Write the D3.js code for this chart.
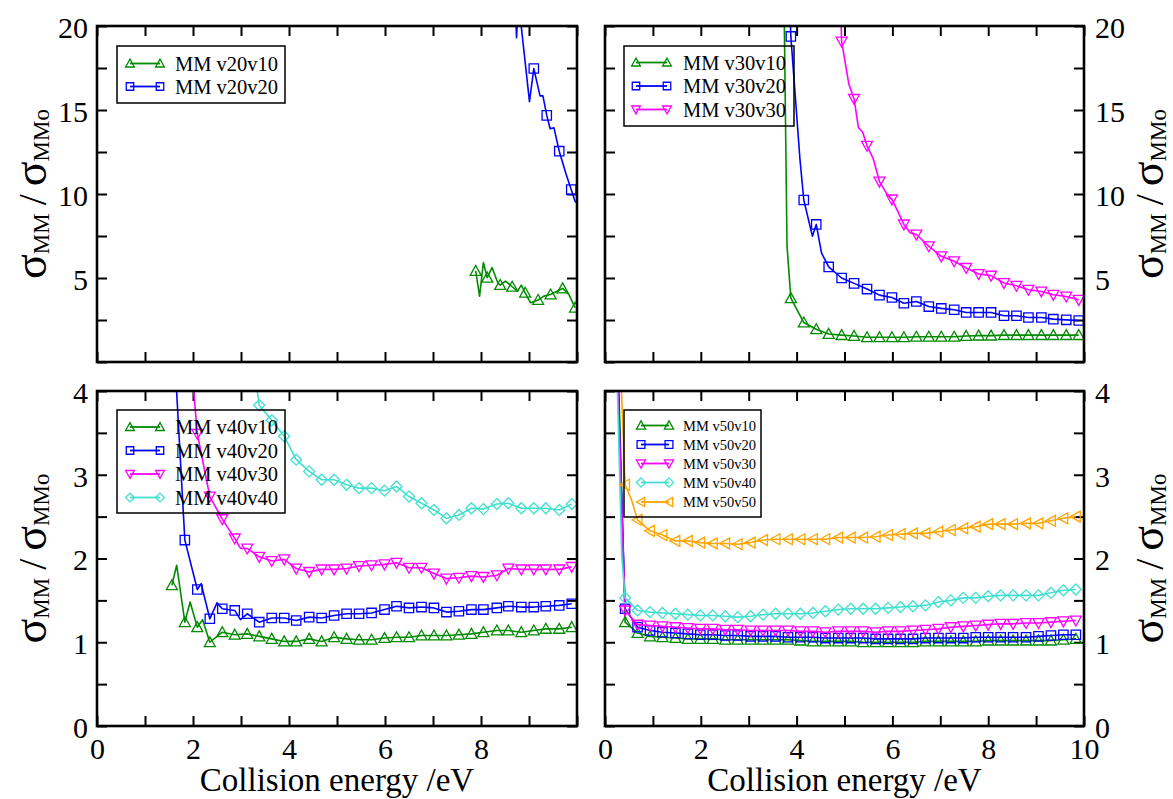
<!DOCTYPE html>
<html>
<head>
<meta charset="utf-8">
<script src="https://cdn.jsdelivr.net/npm/d3@7"></script>
<style>
  html, body { margin: 0; padding: 0; background: #fff; }
  svg { display: block; }
  svg text { font-family: "Liberation Serif", "Tinos", "Times New Roman", "Nimbus Roman", "DejaVu Serif", serif; }
</style>
</head>
<body>
<svg id="chart" width="1173" height="799"></svg>
<script>
// ---------------- DATA ----------------
const xTickLabelsBL = [0, 2, 4, 6, 8];
const xTickLabelsBR = [0, 2, 4, 6, 8, 10];
const yTickLabelsTop = [5, 10, 15, 20];
const yTickLabelsBottom = [0, 1, 2, 3, 4];

// Top-left panel (v20)
const xTL_v20v10 = [7.89, 8.13, 8.40, 8.65, 8.92, 9.19, 9.45, 9.70, 9.96];
const yTL_v20v10 = [5.42, 5.02, 4.58, 4.48, 4.12, 3.69, 4.02, 4.38, 3.23];
const kinksTL_v20v10 = [[7.97, 3.92], [8.05, 5.92], [8.23, 5.62], [8.35, 4.72], [8.51, 4.82], [8.76, 4.22], [8.84, 4.58], [9.03, 3.53], [9.31, 3.92], [9.83, 4.02]];
const xTL_v20v20 = [9.10, 9.37, 9.63, 9.88];
const yTL_v20v20 = [17.47, 14.68, 12.55, 10.26];
const kinksTL_v20v20 = [[8.72, 21.0], [8.74, 19.3], [8.78, 21.5], [9.01, 15.5], [9.23, 15.84], [9.29, 15.84], [9.44, 13.88], [9.52, 13.94], [9.77, 11.2], [9.97, 9.5]];

// Top-right panel (v30)
const xTR = [3.88, 4.15, 4.41, 4.67, 4.94, 5.20, 5.47, 5.73, 5.99, 6.24, 6.50, 6.76, 7.02, 7.29, 7.54, 7.80, 8.06, 8.33, 8.59, 8.84, 9.11, 9.36, 9.63, 9.89];
const yTR_v30v10 = [3.80, 2.35, 1.95, 1.67, 1.60, 1.55, 1.47, 1.47, 1.47, 1.47, 1.50, 1.50, 1.50, 1.50, 1.55, 1.57, 1.57, 1.60, 1.60, 1.60, 1.60, 1.60, 1.60, 1.60];
const yTR_v30v20 = [19.38, 9.64, 8.19, 5.66, 5.00, 4.68, 4.34, 3.98, 3.84, 3.50, 3.60, 3.30, 3.19, 3.11, 2.95, 2.95, 2.95, 2.75, 2.75, 2.65, 2.65, 2.55, 2.51, 2.47];
const yTR_v30v30 = [null, null, null, null, 19.08, 15.66, 12.87, 10.74, 9.68, 8.19, 7.59, 6.89, 6.29, 6.00, 5.60, 5.24, 5.14, 4.70, 4.54, 4.30, 4.20, 4.00, 3.90, 3.70];
const kinksTR_v30v10 = [[3.74, 21.0], [3.80, 6.9]];
const kinksTR_v30v20 = [[3.86, 21.0], [4.07, 12.07], [4.33, 7.49], [4.52, 6.49]];
const kinksTR_v30v30 = [[4.92, 21.0], [5.09, 16.55], [5.29, 13.96], [5.38, 13.67], [5.60, 12.1], [5.89, 9.98], [6.10, 9.04], [6.37, 7.69]];

// Bottom-left panel (v40)
const xBL = [1.56, 1.83, 2.09, 2.35, 2.61, 2.87, 3.13, 3.38, 3.64, 3.90, 4.15, 4.42, 4.68, 4.94, 5.20, 5.46, 5.72, 5.99, 6.24, 6.50, 6.76, 7.02, 7.28, 7.54, 7.80, 8.05, 8.33, 8.57, 8.84, 9.10, 9.35, 9.63, 9.89];
const yBL_v40v10 = [1.68, 1.24, 1.18, 1.00, 1.12, 1.09, 1.10, 1.07, 1.04, 1.01, 1.01, 1.04, 1.01, 1.06, 1.04, 1.03, 1.03, 1.05, 1.06, 1.06, 1.08, 1.08, 1.08, 1.09, 1.10, 1.12, 1.14, 1.14, 1.12, 1.14, 1.16, 1.16, 1.18];
const yBL_v40v20 = [null, 2.22, 1.63, 1.28, 1.40, 1.38, 1.34, 1.24, 1.29, 1.29, 1.26, 1.30, 1.29, 1.32, 1.34, 1.34, 1.35, 1.39, 1.43, 1.41, 1.42, 1.41, 1.36, 1.37, 1.39, 1.39, 1.41, 1.43, 1.42, 1.42, 1.43, 1.44, 1.46];
const yBL_v40v30 = [null, null, 3.49, 2.74, 2.47, 2.24, 2.12, 2.02, 1.97, 1.99, 1.88, 1.84, 1.87, 1.87, 1.88, 1.91, 1.92, 1.93, 1.95, 1.89, 1.89, 1.82, 1.76, 1.77, 1.79, 1.78, 1.80, 1.88, 1.87, 1.87, 1.87, 1.87, 1.90];
const yBL_v40v40 = [null, null, null, null, null, null, null, 3.83, 3.65, 3.46, 3.18, 3.04, 2.94, 2.94, 2.88, 2.84, 2.84, 2.81, 2.86, 2.74, 2.66, 2.58, 2.48, 2.52, 2.60, 2.59, 2.65, 2.66, 2.60, 2.60, 2.60, 2.58, 2.65];
const kinksBL_v40v10 = [[1.66, 1.92], [1.94, 1.48], [2.20, 1.27]];
const kinksBL_v40v20 = [[1.60, 4.6], [2.17, 1.70], [2.50, 1.47], [2.99, 1.27]];
const kinksBL_v40v30 = [[1.97, 4.3], [2.99, 2.12]];
const kinksBL_v40v40 = [[3.29, 4.2]];

// Bottom-right panel (v50)
const xBR = [0.42, 0.68, 0.94, 1.20, 1.47, 1.73, 1.99, 2.25, 2.51, 2.77, 3.04, 3.30, 3.56, 3.82, 4.08, 4.34, 4.60, 4.87, 5.13, 5.39, 5.65, 5.91, 6.17, 6.43, 6.69, 6.96, 7.22, 7.48, 7.74, 8.00, 8.26, 8.52, 8.79, 9.05, 9.31, 9.57, 9.83];
const yBR_v50v10 = [1.24, 1.11, 1.07, 1.06, 1.05, 1.04, 1.04, 1.04, 1.03, 1.03, 1.03, 1.03, 1.03, 1.03, 1.02, 1.01, 1.01, 1.01, 1.01, 1.00, 1.00, 1.00, 1.00, 1.00, 1.01, 1.01, 1.01, 1.01, 1.01, 1.02, 1.02, 1.02, 1.02, 1.02, 1.02, 1.03, 1.04];
const yBR_v50v20 = [1.40, 1.18, 1.14, 1.12, 1.11, 1.10, 1.09, 1.09, 1.08, 1.08, 1.07, 1.07, 1.07, 1.06, 1.06, 1.06, 1.05, 1.05, 1.05, 1.05, 1.04, 1.04, 1.04, 1.04, 1.05, 1.05, 1.05, 1.05, 1.06, 1.06, 1.06, 1.06, 1.06, 1.07, 1.08, 1.09, 1.09];
const yBR_v50v30 = [1.38, 1.21, 1.20, 1.19, 1.18, 1.17, 1.16, 1.16, 1.15, 1.15, 1.14, 1.14, 1.14, 1.14, 1.13, 1.13, 1.12, 1.13, 1.13, 1.13, 1.12, 1.13, 1.13, 1.14, 1.15, 1.16, 1.18, 1.19, 1.20, 1.21, 1.22, 1.22, 1.23, 1.23, 1.24, 1.25, 1.26];
const yBR_v50v40 = [1.53, 1.38, 1.36, 1.35, 1.34, 1.33, 1.32, 1.32, 1.31, 1.30, 1.31, 1.33, 1.34, 1.34, 1.34, 1.35, 1.37, 1.39, 1.40, 1.40, 1.40, 1.41, 1.42, 1.43, 1.44, 1.48, 1.50, 1.53, 1.53, 1.55, 1.56, 1.56, 1.56, 1.56, 1.59, 1.62, 1.63];
const yBR_v50v50 = [2.88, 2.46, 2.33, 2.28, 2.21, 2.21, 2.19, 2.18, 2.18, 2.17, 2.19, 2.22, 2.23, 2.23, 2.23, 2.23, 2.23, 2.25, 2.25, 2.25, 2.26, 2.28, 2.29, 2.30, 2.30, 2.32, 2.34, 2.36, 2.38, 2.41, 2.41, 2.41, 2.42, 2.42, 2.45, 2.48, 2.50];
const kinksBR_v50v10 = [[0.28, 4.2]];
const kinksBR_v50v20 = [[0.27, 4.2]];
const kinksBR_v50v30 = [[0.26, 4.2]];
const kinksBR_v50v40 = [[0.25, 4.2], [0.35, 2.03]];
const kinksBR_v50v50 = [[0.33, 4.2], [0.56, 2.69]];

// ---------------- STYLE / LAYOUT ----------------
const COL = { v10: "#008b00", v20: "#0000ff", v30: "#ff00ff", v40: "#40e0d0", v50: "#ffa500" };
const SHAPE = { v10: "up", v20: "square", v30: "down", v40: "diamond", v50: "left" };

function markerPath(shape, r) {
  switch (shape) {
    case "up": return `M0,${-r}L${r},${r * 0.8}L${-r},${r * 0.8}Z`;
    case "down": return `M0,${r}L${r},${-r * 0.8}L${-r},${-r * 0.8}Z`;
    case "left": return `M${-r},0L${r * 0.8},${-r}L${r * 0.8},${r}Z`;
    case "diamond": return `M0,${-r}L${r},0L0,${r}L${-r},0Z`;
    default: { const s = r * 0.85; return `M${-s},${-s}H${s}V${s}H${-s}Z`; }
  }
}

function merge(xs, ys, kinks) {
  const line = [], marks = [];
  xs.forEach((x, i) => { if (ys[i] != null) { line.push([x, ys[i]]); marks.push([x, ys[i]]); } });
  kinks.forEach(p => line.push(p));
  line.sort((a, b) => a[0] - b[0]);
  return { line, marks };
}

const panels = [
  {
    id: "TL", x0: 97, x1: 577, y0: 26, y1: 362, ydom: [0, 20], yStep: 2.5, yLabels: yTickLabelsTop,
    xLabels: [], side: "left",
    series: [
      { name: "MM v20v10", key: "v10", ...merge(xTL_v20v10, yTL_v20v10, kinksTL_v20v10) },
      { name: "MM v20v20", key: "v20", ...merge(xTL_v20v20, yTL_v20v20, kinksTL_v20v20) }
    ],
    legend: { x0: 117, y0: 46, x1: 285, y1: 103, rows: [63.5, 86.5], lx: 130, lw: 30, tx: 175, fs: 20.5, mr: 4.4 }
  },
  {
    id: "TR", x0: 605, x1: 1084, y0: 26, y1: 362, ydom: [0, 20], yStep: 2.5, yLabels: yTickLabelsTop,
    xLabels: [], side: "right",
    series: [
      { name: "MM v30v10", key: "v10", ...merge(xTR, yTR_v30v10, kinksTR_v30v10) },
      { name: "MM v30v20", key: "v20", ...merge(xTR, yTR_v30v20, kinksTR_v30v20) },
      { name: "MM v30v30", key: "v30", ...merge(xTR, yTR_v30v30, kinksTR_v30v30) }
    ],
    legend: { x0: 624, y0: 46, x1: 794, y1: 126, rows: [62.5, 86, 109.5], lx: 636, lw: 31, tx: 683, fs: 20.5, mr: 4.4 }
  },
  {
    id: "BL", x0: 97, x1: 577, y0: 391, y1: 726, ydom: [0, 4], yStep: 0.5, yLabels: yTickLabelsBottom,
    xLabels: xTickLabelsBL, side: "left",
    series: [
      { name: "MM v40v10", key: "v10", ...merge(xBL, yBL_v40v10, kinksBL_v40v10) },
      { name: "MM v40v20", key: "v20", ...merge(xBL, yBL_v40v20, kinksBL_v40v20) },
      { name: "MM v40v30", key: "v30", ...merge(xBL, yBL_v40v30, kinksBL_v40v30) },
      { name: "MM v40v40", key: "v40", ...merge(xBL, yBL_v40v40, kinksBL_v40v40) }
    ],
    legend: { x0: 117, y0: 410, x1: 285, y1: 513, rows: [427, 450.5, 474, 497.5], lx: 130, lw: 30, tx: 175, fs: 20.5, mr: 4.4 }
  },
  {
    id: "BR", x0: 605, x1: 1084, y0: 391, y1: 726, ydom: [0, 4], yStep: 0.5, yLabels: yTickLabelsBottom,
    xLabels: xTickLabelsBR, side: "right",
    series: [
      { name: "MM v50v10", key: "v10", ...merge(xBR, yBR_v50v10, kinksBR_v50v10) },
      { name: "MM v50v20", key: "v20", ...merge(xBR, yBR_v50v20, kinksBR_v50v20) },
      { name: "MM v50v30", key: "v30", ...merge(xBR, yBR_v50v30, kinksBR_v50v30) },
      { name: "MM v50v40", key: "v40", ...merge(xBR, yBR_v50v40, kinksBR_v50v40) },
      { name: "MM v50v50", key: "v50", ...merge(xBR, yBR_v50v50, kinksBR_v50v50) }
    ],
    legend: { x0: 624, y0: 410, x1: 761, y1: 517, rows: [425.5, 444.5, 463.5, 482.5, 502], lx: 641, lw: 28, tx: 683, fs: 14.5, mr: 4.6 }
  }
];

const svg = d3.select("#chart");
const defs = svg.append("defs");

panels.forEach(p => {
  const x = d3.scaleLinear().domain([0, 10]).range([p.x0, p.x1]);
  const y = d3.scaleLinear().domain(p.ydom).range([p.y1, p.y0]);
  const g = svg.append("g").attr("class", "panel-" + p.id);

  defs.append("clipPath").attr("id", "clip-" + p.id)
    .append("rect").attr("x", p.x0).attr("y", p.y0).attr("width", p.x1 - p.x0).attr("height", p.y1 - p.y0);

  const xTicks = d3.range(0, 11, 1);
  const yTicks = d3.range(p.ydom[0], p.ydom[1] + 1e-9, p.yStep);
  const fmtX = d => p.xLabels.includes(d) ? String(d) : "";
  const fmtY = d => p.yLabels.includes(d) ? String(d) : "";

  const axB = g.append("g").attr("transform", `translate(0,${p.y1})`)
    .call(d3.axisBottom(x).tickValues(xTicks).tickSizeInner(-10).tickSizeOuter(0).tickPadding(12).tickFormat(fmtX));
  const axT = g.append("g").attr("transform", `translate(0,${p.y0})`)
    .call(d3.axisTop(x).tickValues(xTicks).tickSizeInner(-10).tickSizeOuter(0).tickFormat(() => ""));
  const axL = g.append("g").attr("transform", `translate(${p.x0},0)`)
    .call(d3.axisLeft(y).tickValues(yTicks).tickSizeInner(-10).tickSizeOuter(0).tickPadding(9)
      .tickFormat(p.side === "left" ? fmtY : () => ""));
  const axR = g.append("g").attr("transform", `translate(${p.x1},0)`)
    .call(d3.axisRight(y).tickValues(yTicks).tickSizeInner(-10).tickSizeOuter(0).tickPadding(11)
      .tickFormat(p.side === "right" ? fmtY : () => ""));

  [axB, axT, axL, axR].forEach(a => {
    a.attr("font-family", null).attr("font-size", null);
    a.select(".domain").remove();
    a.selectAll(".tick line").attr("stroke", "#000").attr("stroke-width", 2);
    a.selectAll(".tick text").attr("fill", "#000").style("font-size", "30px");
  });
  axL.selectAll(".tick text").attr("dy", "0.38em");
  axR.selectAll(".tick text").attr("dy", "0.38em");

  const plot = g.append("g").attr("clip-path", `url(#clip-${p.id})`);
  const lineGen = d3.line().x(d => x(d[0])).y(d => y(d[1]));
  p.series.forEach(s => {
    plot.append("path").datum(s.line).attr("d", lineGen)
      .attr("fill", "none").attr("stroke", COL[s.key]).attr("stroke-width", 1.6).attr("stroke-linejoin", "round");
    plot.selectAll(null).data(s.marks).enter().append("path")
      .attr("d", markerPath(SHAPE[s.key], 5.5))
      .attr("transform", d => `translate(${x(d[0])},${y(d[1])})`)
      .attr("fill", "none").attr("stroke", COL[s.key]).attr("stroke-width", 1.3);
  });

  g.append("rect").attr("x", p.x0).attr("y", p.y0).attr("width", p.x1 - p.x0).attr("height", p.y1 - p.y0)
    .attr("fill", "none").attr("stroke", "#000").attr("stroke-width", 2.6);

  const L = p.legend;
  const lg = g.append("g").attr("class", "legend");
  lg.append("rect").attr("x", L.x0).attr("y", L.y0).attr("width", L.x1 - L.x0).attr("height", L.y1 - L.y0)
    .attr("fill", "none").attr("stroke", "#000").attr("stroke-width", 1.5);
  p.series.forEach((s, i) => {
    const ry = L.rows[i];
    lg.append("line").attr("x1", L.lx).attr("x2", L.lx + L.lw).attr("y1", ry).attr("y2", ry)
      .attr("stroke", COL[s.key]).attr("stroke-width", 1.8);
    [L.lx, L.lx + L.lw].forEach(mx => {
      lg.append("path").attr("d", markerPath(SHAPE[s.key], L.mr)).attr("transform", `translate(${mx},${ry})`)
        .attr("fill", "none").attr("stroke", COL[s.key]).attr("stroke-width", 1.3);
    });
    lg.append("text").attr("x", L.tx).attr("y", ry).attr("dy", "0.35em")
      .style("font-size", L.fs + "px").attr("fill", "#000").text(s.name);
  });

  const yc = (p.y0 + p.y1) / 2;
  const tx = p.side === "left" ? 46 : 1163;
  const t = g.append("text").attr("transform", `translate(${tx},${yc}) rotate(-90)`)
    .attr("text-anchor", "middle").attr("fill", "#000");
  t.append("tspan").style("font-size", "46px").text("σ");
  t.append("tspan").style("font-size", "23px").attr("dy", 3).text("MM");
  t.append("tspan").style("font-size", "40px").attr("dy", -3).text("\u2009/\u2009");
  t.append("tspan").style("font-size", "46px").text("σ");
  t.append("tspan").style("font-size", "23px").attr("dy", 3).text("MMo");

  if (p.xLabels.length) {
    g.append("text").attr("x", (p.x0 + p.x1) / 2).attr("y", 791).attr("text-anchor", "middle")
      .style("font-size", "33px").attr("fill", "#000").text("Collision energy /eV");
  }
});
</script>
</body>
</html>
